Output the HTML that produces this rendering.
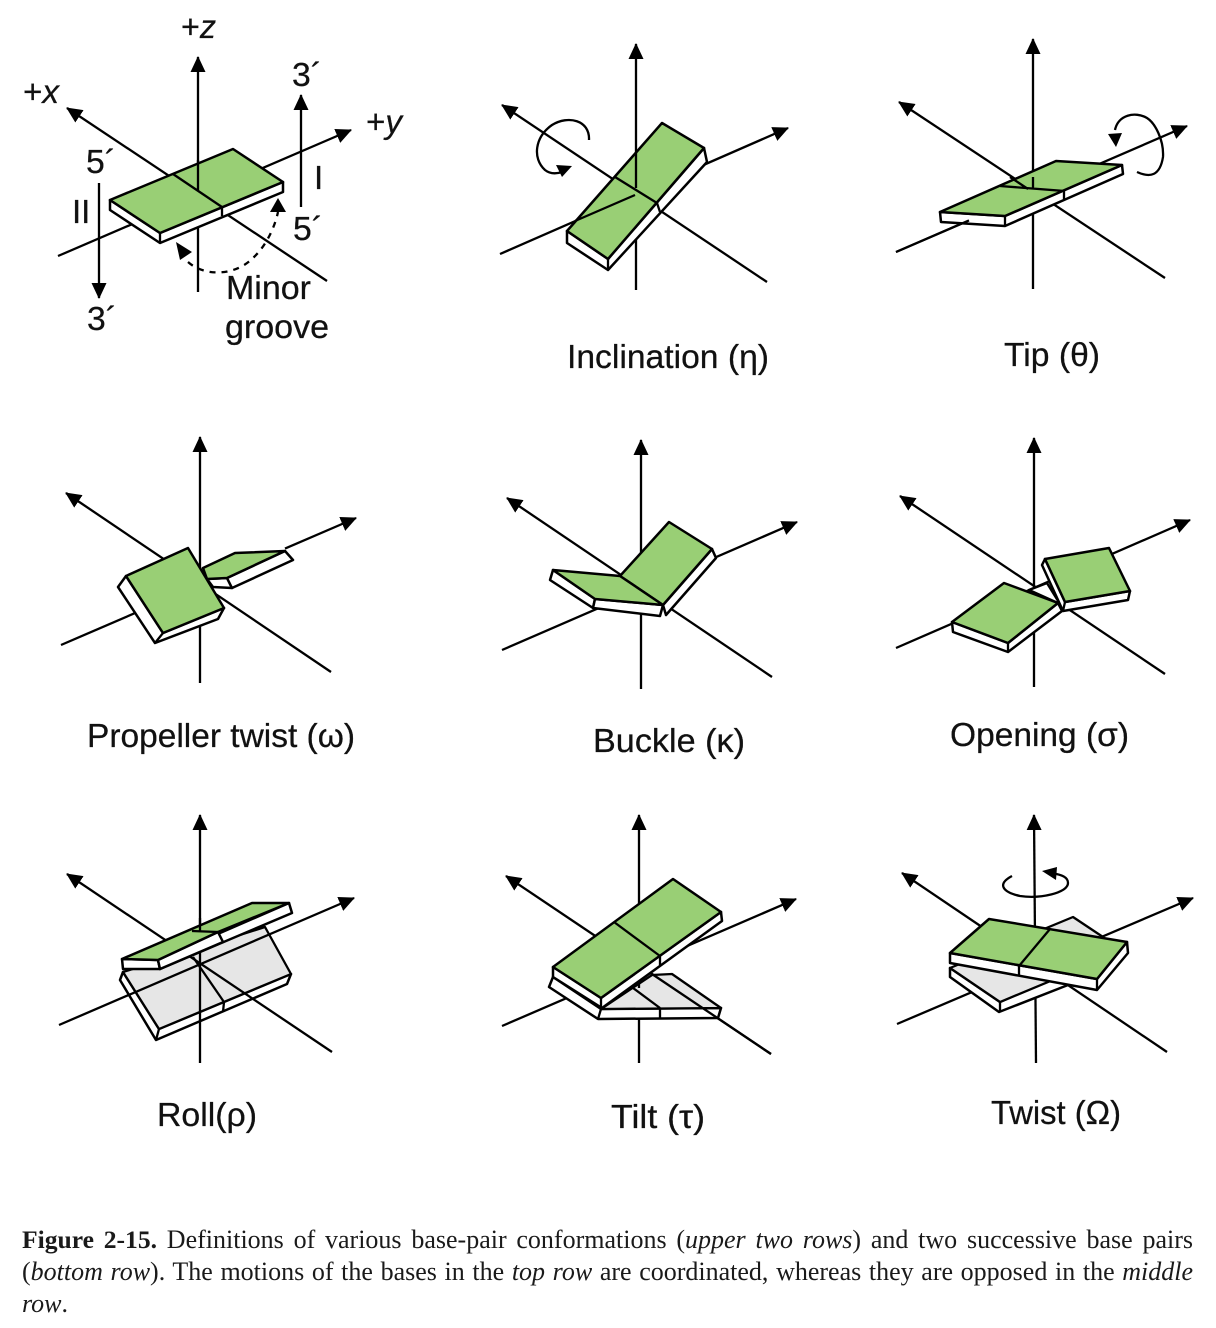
<!DOCTYPE html>
<html><head><meta charset="utf-8"><style>
html,body{margin:0;padding:0;background:#fff;width:1216px;height:1328px;overflow:hidden}
svg{position:absolute;left:0;top:0}
.l{stroke:#000;stroke-width:2.3;fill:none}
.a{marker-end:url(#ah)}
.g{fill:#99cf75;stroke:#000;stroke-width:2.5;stroke-linejoin:round}
.w{fill:#fff;stroke:#000;stroke-width:2.5;stroke-linejoin:round}
.e{fill:#e6e6e6;stroke:#000;stroke-width:2.3;stroke-linejoin:round}
text{font-family:"Liberation Sans",sans-serif;font-size:33px;fill:#111;stroke:#111;stroke-width:.25}
.c{position:absolute;left:22px;width:1171px;font:26px/32px "Liberation Serif",serif;color:#1a1a1a;white-space:nowrap;text-align:justify;text-align-last:justify}
.c b{font-size:25.6px}
</style></head><body>
<svg width="1216" height="1328" viewBox="0 0 1216 1328">
<defs><marker id="ah" markerUnits="userSpaceOnUse" markerWidth="18" markerHeight="18" refX="15" refY="9" orient="auto"><path d="M0,1.5 L16,9 L0,16.5Z" fill="#000"/></marker></defs>

<!-- Panel 1 -->
<path class="l a" d="M198,292V57"/><path class="l a" d="M327,281L67,108"/><path class="l a" d="M58,256L351,130"/>
<polygon class="w" points="110,200 160,233 283,182 283,192 160,243 110,210"/>
<path class="l" d="M160,233V243"/>
<polygon class="g" points="110,200 233,149 283,182 160,233"/>
<path class="l" d="M173,174L222,207V216M198,160V191"/>
<path class="l a" d="M99,183V298"/><path class="l a" d="M301,207V95"/>
<path class="l" stroke-dasharray="6 6" d="M188,262C205,277 235,276 253,258C267,245 275,226 278,212"/>
<polygon points="176,242 192,252 180,260" fill="#000"/><polygon points="278,198 286,212 270,212" fill="#000"/>
<text x="181" y="38" textLength="35" lengthAdjust="spacingAndGlyphs">+<tspan font-style="italic">z</tspan></text>
<text x="292" y="86" textLength="30" lengthAdjust="spacingAndGlyphs">3´</text>
<text x="23" y="103" textLength="36" lengthAdjust="spacingAndGlyphs">+<tspan font-style="italic">x</tspan></text>
<text x="366" y="133" textLength="36" lengthAdjust="spacingAndGlyphs">+<tspan font-style="italic">y</tspan></text>
<text x="86" y="173" textLength="30" lengthAdjust="spacingAndGlyphs">5´</text>
<text x="72" y="223">II</text>
<text x="314" y="189">I</text>
<text x="293" y="240" textLength="30" lengthAdjust="spacingAndGlyphs">5´</text>
<text x="87" y="330" textLength="30" lengthAdjust="spacingAndGlyphs">3´</text>
<text x="226" y="299" textLength="85" lengthAdjust="spacingAndGlyphs">Minor</text>
<text x="225" y="338" textLength="104" lengthAdjust="spacingAndGlyphs">groove</text>

<!-- Panel 2 Inclination -->
<path class="l a" d="M636,290V44"/><path class="l a" d="M767,282L502,105"/><path class="l a" d="M500,254L788,128"/>
<polygon class="w" points="567,231 608,259 704,148 707,162 608,270 567,243"/>
<path class="l" d="M608,259V270"/>
<polygon class="g" points="567,231 662,123 704,148 608,259"/>
<path class="l" d="M615,177L657,203L660,212M636,152V188M575,221L635,195"/>
<path class="l" d="M589,140C590,120 568,115 552,125C535,137 532,158 545,170C550,174 556,174 562,172"/>
<polygon points="572,166 556,165 562,177" fill="#000"/>
<text x="567" y="368" textLength="202" lengthAdjust="spacingAndGlyphs">Inclination (η)</text>

<!-- Panel 3 Tip -->
<path class="l a" d="M1033,289V39"/><path class="l a" d="M1165,278L899,102"/><path class="l a" d="M896,252L1187,126"/>
<polygon class="w" points="940,212 1005,216 1122,165 1123,174 1005,226 941,222"/>
<path class="l" d="M1005,216V226"/>
<polygon class="g" points="940,212 1056,161 1122,165 1005,216"/>
<path class="l" d="M1000,186L1064,191V199M1033,177V189M1010,177L1028,189M896,252L969,220.4"/>
<path class="l" d="M1137,172C1150,178 1160,176 1163,157C1164,140 1155,123 1147,118C1135,111 1118,115 1115,130"/>
<polygon points="1116,147 1108,134 1122,133" fill="#000"/>
<text x="1004" y="366" textLength="96" lengthAdjust="spacingAndGlyphs">Tip (θ)</text>

<!-- Panel 4 Propeller -->
<path class="l a" d="M200,683V437"/><path class="l a" d="M331,672L66,493"/><path class="l" d="M61,645L200,585"/><path class="l a" d="M285,548.6L356,518"/>
<polygon class="w" points="207,579 227,578 232,588 213,587"/>
<polygon class="w" points="227,578 285,551 293,560 232,588"/>
<polygon class="g" points="203,568 235,553 285,551 227,578 207,579"/>
<polygon class="w" points="126,576 118,587 155,643 218,619 224,608 163,633"/>
<polygon class="g" points="126,576 188,548 224,608 163,633"/>
<path class="l" d="M163,633L155,643"/>
<text x="87" y="747" textLength="268" lengthAdjust="spacingAndGlyphs">Propeller twist (ω)</text>

<!-- Panel 5 Buckle -->
<path class="l a" d="M641,689V440"/><path class="l a" d="M772,677L507,498"/><path class="l a" d="M502,650L797,522"/>
<polygon class="w" points="663,605 712,549 716,558 666,615"/>
<polygon class="g" points="620,576 669,522 712,549 663,605"/>
<polygon class="w" points="553,570 595,599 593,608 550,580"/>
<polygon class="w" points="595,599 663,605 660,616 593,608"/>
<polygon class="g" points="553,570 620,576 663,605 595,599"/>
<text x="593" y="752" textLength="152" lengthAdjust="spacingAndGlyphs">Buckle (κ)</text>

<!-- Panel 6 Opening -->
<path class="l a" d="M1034,687V438"/><path class="l a" d="M1165,674L900,496"/><path class="l a" d="M896,648L1190,520"/>
<polygon class="w" points="1029,590 1047,583 1060,604"/>
<polygon class="w" points="952,622 1008,643 1058,603 1062,611 1008,652 953,632"/>
<path class="l" d="M1008,643V652"/>
<polygon class="g" points="952,622 1004,583 1058,603 1008,643"/>
<polygon class="w" points="1045,559 1065,602 1130,591 1128,600 1063,611 1042,565"/>
<path class="l" d="M1065,602L1063,611"/>
<polygon class="g" points="1045,559 1109,548 1130,591 1065,602"/>
<text x="950" y="746" textLength="179" lengthAdjust="spacingAndGlyphs">Opening (σ)</text>

<!-- Panel 7 Roll -->
<polygon class="w" points="123,972 120,980 156,1040 287,984 291,974 159,1029"/>
<path class="l" d="M159,1029L156,1040"/>
<polygon class="e" points="123,972 265,927 291,974 159,1029"/>
<path class="l" d="M193,957L224,1002L223,1012"/>
<path class="l a" d="M200,1063V815"/><path class="l a" d="M332,1052L67,874"/><path class="l a" d="M59,1025L354,898"/>
<polygon class="w" points="122,959 158,960 160,969 123,969"/>
<polygon class="w" points="158,960 289,903 292,913 160,969"/>
<polygon class="w" points="218,932 223,942 160,969 158,960"/>
<polygon class="g" points="122,959 252,903 289,903 218,932 158,960"/>
<path class="l" d="M192,931L218,932M200,918V931"/>
<text x="157" y="1126" textLength="100" lengthAdjust="spacingAndGlyphs">Roll(ρ)</text>

<!-- Panel 8 Tilt -->
<path class="l a" d="M639,1063V815"/><path class="l a" d="M771,1054L506,876"/><path class="l a" d="M502,1026L796,899"/>
<polygon class="w" points="549,987 598,1019 718,1018 721,1008 601,1009 553,977"/>
<path class="l" d="M598,1019L601,1009M660,1008V1018"/>
<polygon class="e" points="601,1009 652,975 672,974 721,1008"/>
<path class="l" d="M633,988L660,1008M639,978V988M652,974L771,1054"/>
<polygon class="w" points="553,967 601,998 721,912 722,921 602,1008 553,977"/>
<path class="l" d="M601,998V1008M660,956V965"/>
<polygon class="g" points="553,967 673,879 721,912 601,998"/>
<path class="l" d="M614,922L660,956"/>
<text x="611" y="1128" textLength="94" lengthAdjust="spacingAndGlyphs">Tilt (τ)</text>

<!-- Panel 9 Twist -->
<path class="l a" d="M1036,1063L1034,815"/><path class="l a" d="M1167,1052L902,873"/><path class="l a" d="M897,1024L1193,898"/>
<polygon class="w" points="950,968 950,977 999,1012 1068,985 1062,975 1000,1002"/>
<path class="l" d="M1000,1002V1012"/>
<polygon class="e" points="950,968 1073,917 1103,937 1108,957 1000,1002"/>
<polygon class="w" points="950,953 1097,979 1127,942 1128,953 1097,990 950,963"/>
<path class="l" d="M1097,979V990"/>
<polygon class="g" points="950,953 989,919 1127,942 1097,979"/>
<path class="l" d="M1050,929L1019,966V976"/>
<path class="l" d="M1012,876C997,884 1002,892 1020,896C1040,899 1068,893 1068,883C1068,877 1062,875 1052,873"/>
<polygon points="1042,871 1057,867 1056,880" fill="#000"/>
<text x="991" y="1124" textLength="130" lengthAdjust="spacingAndGlyphs">Twist (Ω)</text>
</svg>
<div class="c" style="top:1223.5px"><b>Figure 2-15.</b> Definitions of various base-pair conformations (<i>upper two rows</i>) and two successive base pairs</div>
<div class="c" style="top:1255.5px">(<i>bottom row</i>). The motions of the bases in the <i>top row</i> are coordinated, whereas they are opposed in the <i>middle</i></div>
<div class="c" style="top:1288px;text-align:left;text-align-last:left"><i>row</i>.</div>
</body></html>
